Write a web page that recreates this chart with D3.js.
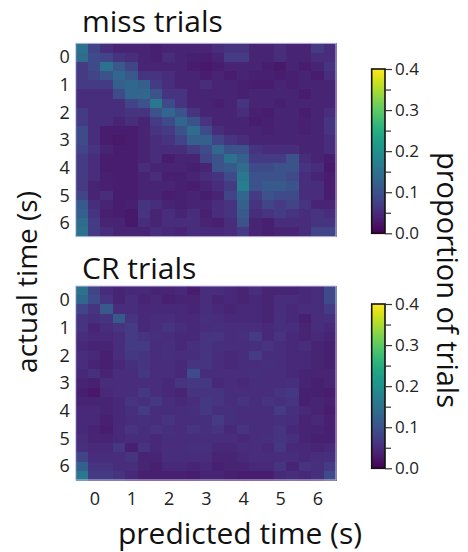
<!DOCTYPE html>
<html>
<head>
<meta charset="utf-8">
<script src="https://cdn.jsdelivr.net/npm/d3@7"></script>
<style>
  html, body { margin: 0; padding: 0; background: #fff; }
  svg { display: block; font-family: "Open Sans", "Noto Sans", sans-serif; }
</style>
</head>
<body>
<svg id="chart" width="468" height="552"></svg>
<script>
// Time bins are 1/3 s wide, starting at -0.5 s (21 bins per axis).
const binStart = -0.5;
const binWidth = 1 / 3;
const timeTicks = [0, 1, 2, 3, 4, 5, 6];
const colorTicks = [0, 0.1, 0.2, 0.3, 0.4];
const colorMinorTicks = [0.05, 0.15, 0.25, 0.35];
const panelTitles = ["miss trials", "CR trials"];

// Rows: actual time bin, columns: predicted time bin.
const missTrials = [
  [0.15,0.08,0.05,0.04,0.04,0.04,0.035,0.04,0.04,0.04,0.04,0.05,0.06,0.06,0.04,0.04,0.05,0.04,0.04,0.07,0.05],
  [0.14,0.09,0.08,0.06,0.05,0.04,0.035,0.05,0.04,0.035,0.03,0.04,0.07,0.07,0.04,0.04,0.05,0.04,0.04,0.05,0.05],
  [0.07,0.09,0.15,0.11,0.08,0.04,0.04,0.04,0.04,0.03,0.025,0.03,0.04,0.04,0.04,0.03,0.025,0.04,0.03,0.04,0.06],
  [0.07,0.08,0.10,0.13,0.11,0.06,0.06,0.05,0.04,0.04,0.03,0.04,0.03,0.04,0.035,0.035,0.03,0.035,0.04,0.03,0.05],
  [0.07,0.07,0.07,0.12,0.13,0.12,0.07,0.05,0.04,0.04,0.05,0.04,0.04,0.035,0.03,0.03,0.04,0.035,0.04,0.04,0.04],
  [0.05,0.05,0.05,0.09,0.13,0.13,0.10,0.06,0.06,0.04,0.04,0.04,0.04,0.035,0.04,0.04,0.04,0.04,0.03,0.04,0.04],
  [0.05,0.05,0.05,0.05,0.08,0.10,0.16,0.09,0.06,0.04,0.04,0.035,0.04,0.06,0.04,0.04,0.035,0.04,0.04,0.04,0.04],
  [0.07,0.05,0.05,0.05,0.06,0.06,0.10,0.13,0.10,0.06,0.04,0.04,0.04,0.05,0.035,0.03,0.04,0.04,0.03,0.04,0.05],
  [0.07,0.05,0.05,0.04,0.05,0.04,0.07,0.09,0.13,0.10,0.06,0.04,0.04,0.04,0.03,0.035,0.04,0.04,0.035,0.04,0.06],
  [0.09,0.05,0.03,0.03,0.03,0.04,0.06,0.07,0.10,0.14,0.09,0.05,0.04,0.04,0.04,0.035,0.04,0.04,0.035,0.04,0.06],
  [0.09,0.05,0.03,0.025,0.03,0.04,0.05,0.06,0.08,0.12,0.12,0.08,0.06,0.05,0.04,0.04,0.04,0.04,0.04,0.04,0.05],
  [0.08,0.06,0.04,0.03,0.03,0.04,0.05,0.05,0.05,0.07,0.09,0.13,0.10,0.10,0.06,0.05,0.05,0.05,0.04,0.04,0.05],
  [0.07,0.05,0.03,0.03,0.03,0.04,0.05,0.03,0.04,0.04,0.08,0.10,0.15,0.12,0.07,0.07,0.07,0.10,0.05,0.04,0.03],
  [0.07,0.05,0.03,0.03,0.03,0.05,0.04,0.04,0.04,0.035,0.04,0.10,0.11,0.14,0.09,0.09,0.10,0.10,0.06,0.05,0.025],
  [0.07,0.05,0.035,0.03,0.03,0.04,0.05,0.035,0.035,0.04,0.05,0.06,0.09,0.16,0.10,0.10,0.10,0.09,0.05,0.04,0.03],
  [0.07,0.04,0.035,0.03,0.03,0.04,0.04,0.04,0.035,0.03,0.04,0.05,0.07,0.17,0.10,0.11,0.11,0.10,0.05,0.05,0.03],
  [0.08,0.04,0.05,0.03,0.03,0.04,0.04,0.03,0.035,0.04,0.03,0.04,0.08,0.13,0.07,0.10,0.09,0.09,0.05,0.05,0.03],
  [0.11,0.05,0.04,0.03,0.035,0.06,0.05,0.04,0.035,0.04,0.04,0.05,0.06,0.12,0.06,0.08,0.07,0.08,0.06,0.04,0.04],
  [0.12,0.06,0.035,0.03,0.025,0.06,0.04,0.05,0.04,0.05,0.035,0.05,0.06,0.11,0.05,0.06,0.07,0.06,0.05,0.06,0.05],
  [0.14,0.07,0.04,0.04,0.025,0.05,0.04,0.05,0.05,0.05,0.04,0.035,0.05,0.10,0.04,0.035,0.05,0.05,0.05,0.06,0.06],
  [0.15,0.07,0.05,0.04,0.04,0.04,0.05,0.045,0.04,0.05,0.045,0.045,0.05,0.07,0.04,0.035,0.04,0.04,0.05,0.08,0.08]
];

const crTrials = [
  [0.15,0.08,0.05,0.04,0.045,0.045,0.04,0.04,0.045,0.03,0.05,0.05,0.045,0.04,0.05,0.04,0.04,0.04,0.045,0.05,0.09],
  [0.13,0.09,0.06,0.04,0.05,0.04,0.045,0.035,0.04,0.04,0.05,0.04,0.045,0.04,0.045,0.04,0.05,0.05,0.045,0.05,0.09],
  [0.08,0.06,0.11,0.05,0.05,0.045,0.045,0.045,0.045,0.04,0.05,0.045,0.04,0.045,0.045,0.04,0.05,0.045,0.05,0.05,0.07],
  [0.06,0.055,0.06,0.11,0.06,0.045,0.05,0.05,0.045,0.045,0.055,0.05,0.045,0.045,0.045,0.04,0.055,0.045,0.035,0.05,0.055],
  [0.06,0.04,0.05,0.06,0.07,0.045,0.05,0.06,0.05,0.045,0.05,0.055,0.05,0.05,0.05,0.045,0.055,0.05,0.04,0.05,0.045],
  [0.05,0.045,0.045,0.05,0.07,0.06,0.055,0.05,0.045,0.045,0.06,0.06,0.05,0.055,0.07,0.045,0.06,0.045,0.04,0.045,0.04],
  [0.045,0.04,0.04,0.05,0.07,0.07,0.05,0.055,0.045,0.055,0.06,0.055,0.05,0.05,0.055,0.06,0.05,0.045,0.05,0.04,0.035],
  [0.05,0.045,0.035,0.05,0.065,0.06,0.05,0.055,0.05,0.05,0.06,0.05,0.045,0.05,0.07,0.05,0.05,0.045,0.045,0.04,0.035],
  [0.05,0.04,0.035,0.045,0.055,0.06,0.05,0.05,0.045,0.06,0.06,0.05,0.045,0.05,0.05,0.055,0.05,0.045,0.045,0.04,0.035],
  [0.045,0.055,0.04,0.05,0.05,0.065,0.05,0.05,0.045,0.09,0.05,0.05,0.05,0.05,0.055,0.05,0.05,0.045,0.04,0.04,0.04],
  [0.04,0.035,0.05,0.05,0.05,0.05,0.05,0.045,0.06,0.065,0.065,0.045,0.05,0.045,0.05,0.05,0.05,0.055,0.04,0.035,0.04],
  [0.035,0.025,0.045,0.05,0.05,0.065,0.05,0.045,0.04,0.06,0.06,0.06,0.05,0.05,0.05,0.05,0.06,0.065,0.035,0.035,0.03],
  [0.04,0.04,0.04,0.045,0.06,0.055,0.065,0.05,0.045,0.05,0.065,0.06,0.05,0.06,0.05,0.06,0.055,0.06,0.035,0.04,0.035],
  [0.045,0.045,0.04,0.045,0.055,0.07,0.05,0.05,0.05,0.055,0.065,0.055,0.055,0.05,0.05,0.05,0.07,0.055,0.045,0.04,0.03],
  [0.045,0.045,0.035,0.045,0.05,0.055,0.05,0.06,0.05,0.05,0.055,0.07,0.055,0.05,0.05,0.05,0.055,0.05,0.04,0.045,0.035],
  [0.045,0.04,0.03,0.045,0.06,0.05,0.06,0.055,0.05,0.06,0.055,0.06,0.045,0.06,0.05,0.05,0.06,0.045,0.04,0.04,0.035],
  [0.05,0.04,0.04,0.045,0.05,0.05,0.045,0.05,0.05,0.05,0.05,0.05,0.05,0.045,0.05,0.055,0.06,0.055,0.04,0.035,0.035],
  [0.055,0.045,0.045,0.065,0.035,0.06,0.045,0.05,0.05,0.055,0.055,0.045,0.045,0.05,0.05,0.045,0.065,0.045,0.045,0.04,0.045],
  [0.08,0.05,0.05,0.05,0.06,0.04,0.04,0.05,0.05,0.05,0.05,0.04,0.04,0.045,0.05,0.05,0.05,0.05,0.045,0.05,0.055],
  [0.12,0.06,0.06,0.05,0.05,0.04,0.035,0.045,0.045,0.04,0.045,0.035,0.04,0.04,0.045,0.045,0.06,0.04,0.06,0.055,0.07],
  [0.16,0.07,0.07,0.06,0.045,0.035,0.035,0.035,0.035,0.03,0.04,0.04,0.035,0.03,0.03,0.03,0.045,0.05,0.045,0.055,0.09]
];

const svg = d3.select("#chart");
const color = d3.scaleSequential(d3.interpolateViridis).domain([0, 0.4]);

const plotLeft = 75.7, plotRight = 336;
const panels = [
  { data: missTrials, title: panelTitles[0], top: 43.3, bottom: 236.7, titleY: 32, cbTop: 69, cbBottom: 233.3 },
  { data: crTrials,   title: panelTitles[1], top: 286,  bottom: 480,   titleY: 279, cbTop: 304, cbBottom: 468.3 }
];

const nBins = missTrials.length;
const tMin = binStart, tMax = binStart + nBins * binWidth;
const x = d3.scaleLinear().domain([tMin, tMax]).range([plotLeft, plotRight]);

// gradient for the colour bars
const defs = svg.append("defs");
const grad = defs.append("linearGradient").attr("id", "viridisGrad")
  .attr("x1", 0).attr("y1", 1).attr("x2", 0).attr("y2", 0);
d3.range(0, 1.0001, 0.05).forEach(f => {
  grad.append("stop").attr("offset", f).attr("stop-color", color(f * 0.4));
});

panels.forEach((p, pi) => {
  const y = d3.scaleLinear().domain([tMin, tMax]).range([p.top, p.bottom]);
  const g = svg.append("g");

  const cells = [];
  p.data.forEach((row, r) => row.forEach((v, c) => cells.push({ r, c, v })));

  g.selectAll("rect.cell").data(cells).join("rect")
    .attr("class", "cell")
    .attr("x", d => x(binStart + d.c * binWidth))
    .attr("y", d => y(binStart + d.r * binWidth))
    .attr("width", d => x(binStart + (d.c + 1) * binWidth) - x(binStart + d.c * binWidth) + 0.5)
    .attr("height", d => y(binStart + (d.r + 1) * binWidth) - y(binStart + d.r * binWidth) + 0.5)
    .attr("fill", d => color(d.v))
    .attr("shape-rendering", "crispEdges");

  g.append("rect")
    .attr("x", plotLeft).attr("y", p.top)
    .attr("width", plotRight - plotLeft).attr("height", p.bottom - p.top)
    .attr("fill", "none").attr("stroke", "#c9c3e3").attr("stroke-width", 1);

  // y axis
  const yAxis = svg.append("g")
    .attr("transform", `translate(${plotLeft - 6},0)`)
    .call(d3.axisLeft(y).tickValues(timeTicks).tickSize(0).tickPadding(0).tickFormat(d3.format("d")));
  yAxis.select(".domain").remove();
  yAxis.selectAll("text").attr("font-size", 18).attr("fill", "#222")
    .attr("font-family", "'Open Sans', sans-serif");

  // title
  svg.append("text").attr("x", 82).attr("y", p.titleY)
    .attr("font-size", 30).attr("fill", "#111").text(p.title);

  // colour bar
  const cbX = 371.7, cbW = 13.3;
  const cy = d3.scaleLinear().domain([0, 0.4]).range([p.cbBottom, p.cbTop]);
  svg.append("rect").attr("x", cbX).attr("y", p.cbTop)
    .attr("width", cbW).attr("height", p.cbBottom - p.cbTop)
    .attr("fill", "url(#viridisGrad)").attr("stroke", "#111").attr("stroke-width", 1.6);
  const cbAxis = svg.append("g")
    .attr("transform", `translate(${cbX + cbW},0)`)
    .call(d3.axisRight(cy).tickValues(colorTicks).tickSize(7).tickPadding(3).tickFormat(d3.format(".1f")));
  cbAxis.select(".domain").remove();
  cbAxis.selectAll("line").attr("stroke", "#333").attr("stroke-width", 1.2);
  cbAxis.selectAll("text").attr("font-size", 17).attr("fill", "#222")
    .attr("font-family", "'Open Sans', sans-serif");
  const minor = svg.append("g")
    .attr("transform", `translate(${cbX + cbW},0)`)
    .call(d3.axisRight(cy).tickValues(colorMinorTicks).tickSize(6).tickFormat(""));
  minor.select(".domain").remove();
  minor.selectAll("line").attr("stroke", "#333").attr("stroke-width", 1.2);
});

// shared x axis under the lower panel
const xAxis = svg.append("g")
  .attr("transform", `translate(0,${panels[1].bottom + 8})`)
  .call(d3.axisBottom(x).tickValues(timeTicks).tickSize(0).tickPadding(4).tickFormat(d3.format("d")));
xAxis.select(".domain").remove();
xAxis.selectAll("text").attr("font-size", 18).attr("fill", "#222")
  .attr("font-family", "'Open Sans', sans-serif");

svg.append("text")
  .attr("x", 240).attr("y", 544)
  .attr("text-anchor", "middle").attr("font-size", 30).attr("fill", "#111")
  .text("predicted time (s)");

svg.append("text")
  .attr("transform", "translate(37,282) rotate(-90)")
  .attr("text-anchor", "middle").attr("font-size", 28).attr("fill", "#111")
  .text("actual time (s)");

svg.append("text")
  .attr("transform", "translate(437,280) rotate(90)")
  .attr("text-anchor", "middle").attr("font-size", 29).attr("fill", "#111")
  .text("proportion of trials");
</script>
</body>
</html>
